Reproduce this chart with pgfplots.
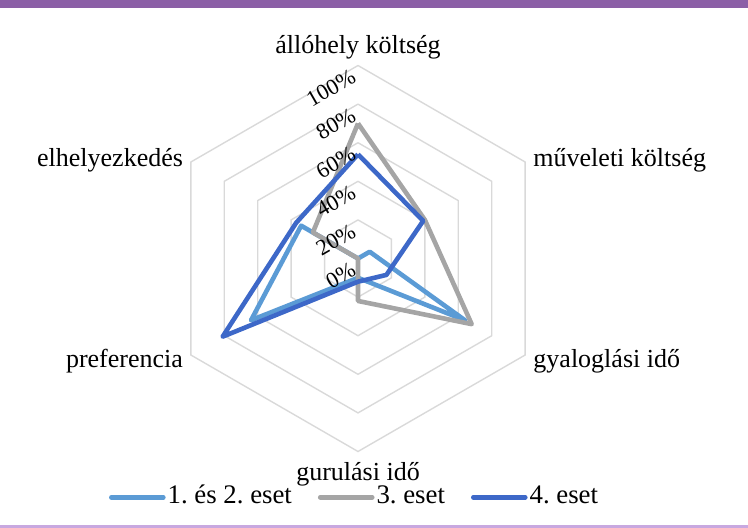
\documentclass[border=0pt]{standalone}
\usepackage{fontspec}
\setmainfont{Liberation Serif}
\usepackage{pgfplots}
\pgfplotsset{compat=1.18}
\frenchspacing
\definecolor{lblue}{RGB}{91,155,213}
\definecolor{dgray}{RGB}{165,165,165}
\definecolor{dblue}{RGB}{61,104,200}
\definecolor{gridc}{RGB}{217,217,217}
\definecolor{purp}{RGB}{139,95,166}
\definecolor{lpurp}{RGB}{200,168,224}
\newcommand{\lbl}{\fontsize{13}{15}\selectfont}
\newcommand{\lgd}{\fontsize{13.4}{15}\selectfont}
\newcommand{\tck}{\fontsize{11.2}{13}\selectfont}
\begin{document}
\begin{tikzpicture}
\begin{axis}[
  at={(0,0)}, anchor=south west,
  width=374pt, height=264.5pt, scale only axis,
  xmin=-185.49, xmax=202.07, ymin=-140.16, ymax=133.94,
  hide axis, clip=false,
  legend style={at={(rel axis cs:0.474,0.06)}, anchor=center, draw=none, fill=none,
    font=\lgd, inner sep=0pt,
    nodes={inner sep=1pt, text height=9pt, text depth=2.5pt},
    /tikz/every even column/.append style={column sep=12pt}},
  legend columns=3,
  legend image code/.code={\draw[#1, line cap=round] (0pt,0pt) -- (26pt,0pt);},
]
\fill[purp] (rel axis cs:0,1) rectangle ([yshift=-4pt]rel axis cs:1,1);
\fill[lpurp] ([yshift=0.6pt]rel axis cs:0,0) rectangle ([yshift=1.8pt]rel axis cs:1,0);

\addplot[gridc, line width=0.7pt, forget plot, data cs=polar] coordinates {(90,20)(30,20)(-30,20)(-90,20)(210,20)(150,20)(90,20)};
\addplot[gridc, line width=0.7pt, forget plot, data cs=polar] coordinates {(90,40)(30,40)(-30,40)(-90,40)(210,40)(150,40)(90,40)};
\addplot[gridc, line width=0.7pt, forget plot, data cs=polar] coordinates {(90,60)(30,60)(-30,60)(-90,60)(210,60)(150,60)(90,60)};
\addplot[gridc, line width=0.7pt, forget plot, data cs=polar] coordinates {(90,80)(30,80)(-30,80)(-90,80)(210,80)(150,80)(90,80)};
\addplot[gridc, line width=0.7pt, forget plot, data cs=polar] coordinates {(90,100)(30,100)(-30,100)(-90,100)(210,100)(150,100)(90,100)};

\addplot[lblue, line width=2.3pt, line join=round, data cs=polar] coordinates {(90,0)(30,7)(-30,64)(-90,10)(210,64)(150,34)(90,0)};
\addlegendentry{1. és 2. eset}
\addplot[dgray, line width=2.3pt, line join=round, data cs=polar] coordinates {(90,70)(30,40)(-30,68)(-90,22)(210,0)(150,27)(90,70)};
\addlegendentry{3. eset}
\addplot[dblue, line width=2.3pt, line join=round, data cs=polar] coordinates {(90,54)(30,39)(-30,17)(-90,12)(210,81)(150,37)(90,54)};
\addlegendentry{4. eset}

\node[rotate=30, anchor=north east, inner sep=0.5pt, font=\tck] at (axis cs:-4,-0.5) {0\%};
\node[rotate=30, anchor=north east, inner sep=0.5pt, font=\tck] at (axis cs:-4,19.5) {20\%};
\node[rotate=30, anchor=north east, inner sep=0.5pt, font=\tck] at (axis cs:-4,39.5) {40\%};
\node[rotate=30, anchor=north east, inner sep=0.5pt, font=\tck] at (axis cs:-4,59.5) {60\%};
\node[rotate=30, anchor=north east, inner sep=0.5pt, font=\tck] at (axis cs:-4,79.5) {80\%};
\node[rotate=30, anchor=north east, inner sep=0.5pt, font=\tck] at (axis cs:-4,99.5) {100\%};

\node[anchor=base, inner sep=0pt, font=\lbl] at (axis cs:0,106.3) {állóhely költség};
\node[anchor=base west, inner sep=0pt, font=\lbl] at (axis cs:90.7,47.9) {műveleti költség};
\node[anchor=base west, inner sep=0pt, font=\lbl] at (axis cs:90.7,-56.7) {gyaloglási idő};
\node[anchor=base, inner sep=0pt, font=\lbl] at (axis cs:0,-114.8) {gurulási idő};
\node[anchor=base east, inner sep=0pt, font=\lbl] at (axis cs:-90.5,-56.7) {preferencia};
\node[anchor=base east, inner sep=0pt, font=\lbl] at (axis cs:-90.5,47.9) {elhelyezkedés};
\end{axis}
\end{tikzpicture}
\end{document}
